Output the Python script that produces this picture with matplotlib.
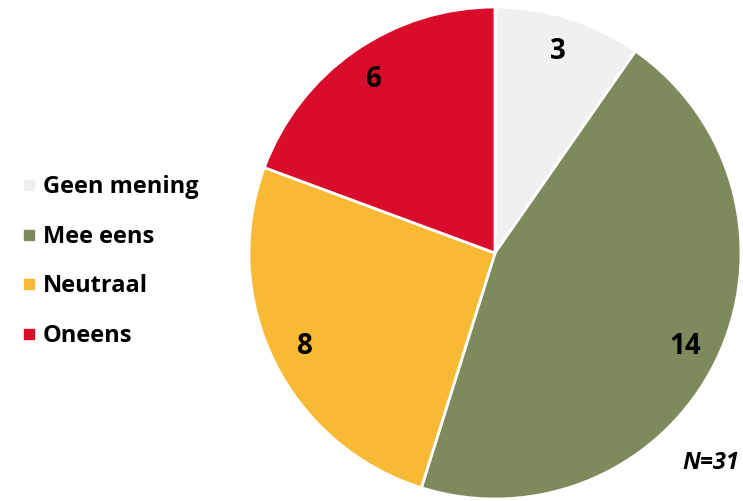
import matplotlib.pyplot as plt
from matplotlib.lines import Line2D

labels = ['Geen mening', 'Mee eens', 'Neutraal', 'Oneens']
counts = [3, 14, 8, 6]
colors = ['#F0F0F0', '#7F8A5C', '#F8B934', '#D90D2B']
n_total = sum(counts)

plt.rcParams['font.family'] = ['Open Sans', 'DejaVu Sans']

fig = plt.figure(figsize=(7.43, 5.01), dpi=100)
# pie centred at roughly (495, 253) px with radius ~246 px
ax = fig.add_axes([249 / 743, 2 / 501, 492 / 743, 492 / 501])

wedges, texts, autotexts = ax.pie(
    counts, colors=colors, startangle=90, counterclock=False,
    autopct=lambda p: '{:.0f}'.format(p * n_total / 100),
    pctdistance=0.86,
    wedgeprops=dict(edgecolor='white', linewidth=2),
    textprops=dict(fontsize=20, fontweight='bold', color='black'))
ax.set_xlim(-1, 1)
ax.set_ylim(-1, 1)
ax.set_aspect('equal')

handles = [Line2D([], [], marker='s', linestyle='none', markersize=7,
                  markerfacecolor=c, markeredgecolor=c) for c in colors]
fig.legend(handles, labels, loc='center left', bbox_to_anchor=(18 / 743, 0.478),
           frameon=False, prop=dict(size=17, weight='bold'), borderpad=0,
           borderaxespad=0, labelspacing=1.08, handletextpad=0.15,
           handlelength=0.9)

fig.text(0.995, 0.075, 'N=31', ha='right', va='center', fontsize=17,
         fontweight='bold', fontstyle='italic')

fig.savefig('out.png', dpi=100)
